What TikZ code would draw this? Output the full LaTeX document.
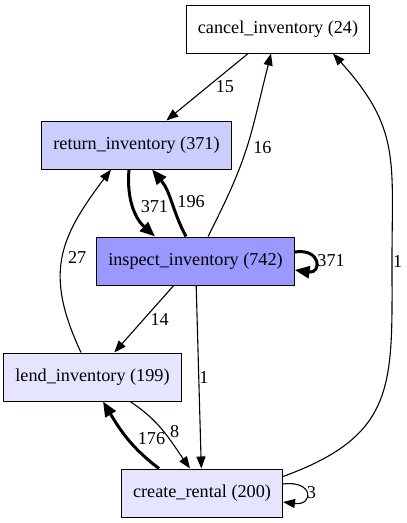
\documentclass[tikz,border=0pt]{standalone}
\usepackage{fontspec}
\setmainfont{Liberation Serif}
\usetikzlibrary{arrows.meta, positioning, calc}
\definecolor{fillreturn}{HTML}{CCCCFF}
\definecolor{fillinspect}{HTML}{9999FF}
\definecolor{fillpale}{HTML}{E5E5FF}
\newcommand{\actbox}[5]{%
  \node[draw=black, line width=1pt, fill=#4, minimum height=48pt,
        inner xsep=11.5pt, text=black] (#1) at (#2,#3) {#5};}

\begin{document}
\begin{tikzpicture}[x=1pt, y=1pt, font=\fontsize{18.2}{20}\selectfont,
    edge/.style={-{Triangle[length=12pt,width=9pt]}, line width=1.1pt},
    heavy/.style={-{Triangle[length=15pt,width=12pt]}, line width=3pt},
    lbl/.style={inner sep=1pt}]
  \useasboundingbox (0,0) rectangle (407,-523);
  \actbox{cancel}{278}{-29}{white}{cancel\_inventory (24)}
  \actbox{return}{136.5}{-145}{fillreturn}{return\_inventory (371)}
  \actbox{inspect}{195.5}{-261}{fillinspect}{inspect\_inventory (742)}
  \actbox{lend}{92.5}{-377}{fillpale}{lend\_inventory (199)}
  \actbox{create}{202}{-493}{fillpale}{create\_rental (200)}
  \coordinate (rbend) at (392,-261);
  % straight edges
  \draw[edge] (cancel) -- node[lbl, right=7pt] {15} (return);
  \draw[edge] (inspect) -- node[lbl, right=5pt] {14} (lend);
  \draw[edge] (inspect) -- node[lbl, right=-1pt] {1} (create);
  % curved edges
  \draw[edge] ($(inspect.north)+(12.5,0)$) to[out=63, in=-104, looseness=1.2]
    node[lbl, right=5pt] {16} ($(cancel.south)+(-7,0)$);
  \draw[heavy] ($(return.south)+(-7.5,0)$) to[out=-95, in=138]
    node[lbl, right=5pt] {371} ($(inspect.north)+(-40.5,0)$);
  \draw[heavy] ($(inspect.north)+(-9.5,0)$) to[out=118, in=-50]
    node[lbl, right=4pt] {196} ($(return.south)+(15.5,0)$);
  \draw[edge] ($(lend.north)+(-11.5,0)$) to[out=115, in=-127, looseness=1.2]
    node[lbl, right=4pt] {27} ($(return.south)+(-25.5,0)$);
  \draw[edge] ($(create.north east)+(0,-8)$) to[out=20, in=-90, looseness=1.3] (rbend)
    node[lbl, right=-0.5pt] {1}
    to[out=90, in=-48, looseness=1.2] ($(cancel.south)+(55,0)$);
  \draw[edge] ($(lend.south)+(37.5,0)$) to[out=-33, in=125]
    node[lbl, right=5pt] {8} ($(create.north)+(-12,0)$);
  \draw[heavy] ($(create.north)+(-43,0)$) to[out=143, in=-59]
    node[lbl, right=8pt] {176} ($(lend.south)+(10.5,0)$);
  % loops
  \draw[heavy] ($(inspect.east)+(0,9)$) .. controls +(27,4) and +(27,-4) ..
    node[lbl, right=0pt] {371} ($(inspect.east)+(0,-9)$);
  \draw[edge] ($(create.east)+(0,9)$) .. controls +(31,4) and +(31,-4) ..
    node[lbl, right=-1pt] {3} ($(create.east)+(0,-9)$);
\end{tikzpicture}
\end{document}
